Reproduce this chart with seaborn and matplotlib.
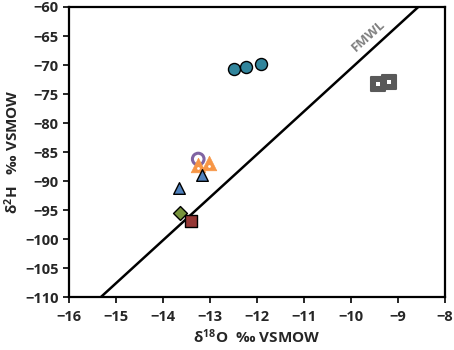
import numpy as np
import pandas as pd
import matplotlib
matplotlib.use("Agg")
import matplotlib.pyplot as plt
import seaborn as sns

# sample groups (d18O, d2H)
teal_o = [-12.49, -12.24, -11.92]
teal_h = [-70.7, -70.3, -69.9]
purple_o = [-13.25]
purple_h = [-86.2]
orange_o = [-13.25, -13.02]
orange_h = [-87.2, -86.8]
blue_o = [-13.66, -13.18]
blue_h = [-91.2, -89.0]
green_o = [-13.64]
green_h = [-95.5]
red_o = [-13.41]
red_h = [-96.8]
gray_o = [-9.43, -9.18]
gray_h = [-73.3, -72.9]

# local meteoric water line
fmwl_slope = 7.4
fmwl_icpt = 3.4

sns.set_style("white")
plt.rcParams['font.family'] = ['Open Sans', 'DejaVu Sans']
plt.rcParams['mathtext.fontset'] = 'custom'
plt.rcParams['mathtext.rm'] = 'Open Sans:bold'
plt.rcParams['mathtext.bf'] = 'Open Sans:bold'
plt.rcParams['mathtext.default'] = 'rm'

fig = plt.figure(figsize=(4.54, 3.5), dpi=100)
ax = fig.add_axes([0.152, 0.151, 0.828, 0.829])

xl = np.array([-16, -8])
line = pd.DataFrame({'x': xl, 'y': fmwl_slope * xl + fmwl_icpt})
sns.lineplot(data=line, x='x', y='y', color='black', lw=1.8, ax=ax)
ax.text(-9.62, -65.0, 'FMWL', rotation=42, color='#808080', fontsize=9.5,
        fontweight='bold', ha='center', va='center')

def pts(o, h, **kw):
    sns.scatterplot(x=o, y=h, ax=ax, legend=False, zorder=3, **kw)

pts(teal_o, teal_h, marker='o', s=75, color='#31859C', edgecolor='black', linewidth=1.0)
pts(purple_o, purple_h, marker='o', s=70, facecolor='none', edgecolor='#8064A2', linewidth=2.2)
pts(orange_o, orange_h, marker='^', s=110, color='#F79646', edgecolor='#F79646', linewidth=0.5)
pts(orange_o, [v - 0.6 for v in orange_h], marker='o', s=4, color='white', linewidth=0)
pts(blue_o, blue_h, marker='^', s=70, color='#4F81BD', edgecolor='black', linewidth=1.0)
pts(green_o, green_h, marker='D', s=50, color='#77933C', edgecolor='black', linewidth=1.0)
pts(red_o, red_h, marker='s', s=70, color='#953735', edgecolor='black', linewidth=1.0)
pts(gray_o, gray_h, marker='s', s=110, color='#595959', edgecolor='#595959', linewidth=1.5)
pts(gray_o, gray_h, marker='s', s=10, color='white', linewidth=0)

ax.set_xlim(-16, -8)
ax.set_ylim(-110, -60)
ax.set_xticks(np.arange(-16, -7, 1))
ax.set_yticks(np.arange(-110, -59, 5))
for sp in ax.spines.values():
    sp.set_visible(True)
    sp.set_color('black')
    sp.set_linewidth(1.6)
ax.tick_params(direction='out', length=4, width=1.4, bottom=True, left=True,
               labelsize=10.5)
ax.tick_params(axis='x', pad=5)
for lab in ax.get_xticklabels() + ax.get_yticklabels():
    lab.set_fontweight('bold')
ax.set_xlabel('δ$^{18}$O  ‰ VSMOW', fontsize=11, fontweight='bold', labelpad=3)
ax.set_ylabel('δ$^{2}$H   ‰ VSMOW', fontsize=11, fontweight='bold', labelpad=3)

fig.savefig('out.png', dpi=100)
